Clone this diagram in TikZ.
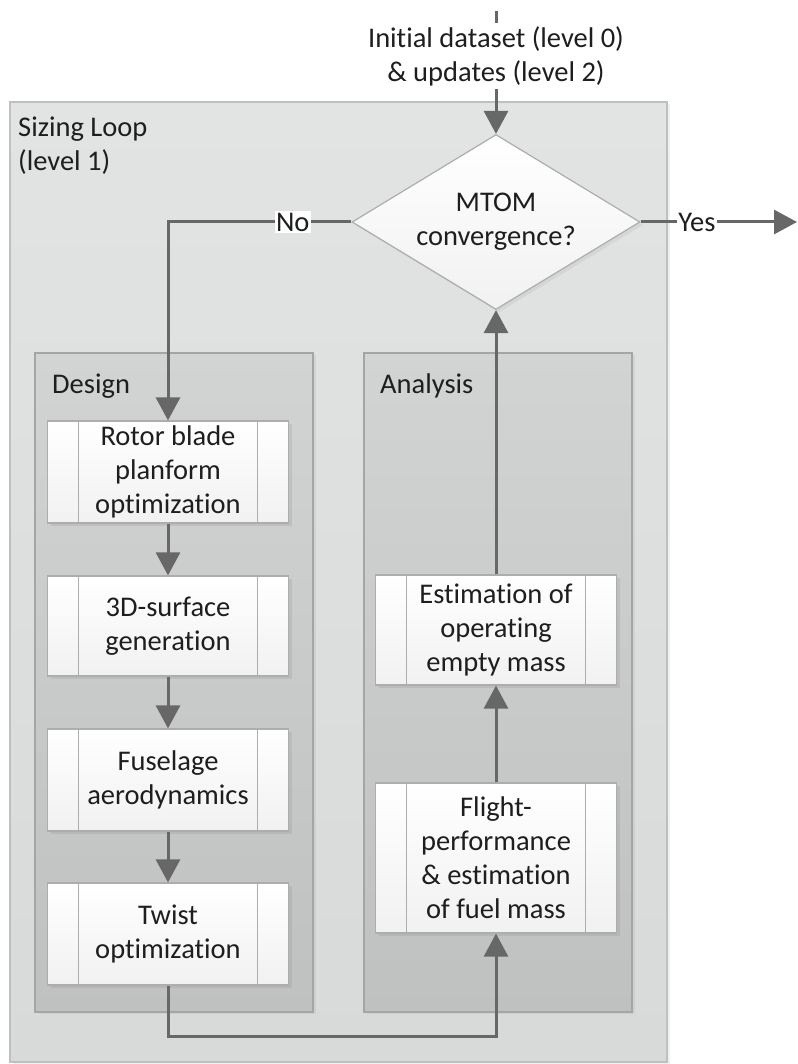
\documentclass[tikz,border=0pt]{standalone}
\usepackage{fontspec}
\setmainfont{Carlito}[Ligatures=NoCommon]
\usetikzlibrary{arrows.meta,shapes.geometric,shadows}

\definecolor{inkgray}{HTML}{1E1E1E}
\definecolor{conngray}{HTML}{676767}
\definecolor{looptop}{HTML}{E2E3E3}
\definecolor{loopbot}{HTML}{D8D9D9}
\definecolor{loopline}{HTML}{BEBFBF}
\definecolor{paneltop}{HTML}{D2D3D3}
\definecolor{panelbot}{HTML}{BFC0C0}
\definecolor{panelline}{HTML}{A4A5A5}
\definecolor{boxline}{HTML}{ADADAD}
\definecolor{boxbot}{HTML}{F1F1F1}

\begin{document}
\begin{tikzpicture}[x=1pt,y=-1pt,
  every node/.style={font=\fontsize{28.5}{34}\selectfont, text=inkgray},
  loopbox/.style={draw=loopline, line width=1.3pt, top color=looptop, bottom color=loopbot,
    inner sep=0, drop shadow={opacity=0.12, shadow xshift=3pt, shadow yshift=-2pt}},
  panel/.style={draw=panelline, line width=1.3pt, top color=paneltop, bottom color=panelbot,
    inner sep=0, drop shadow={opacity=0.12, shadow xshift=3pt, shadow yshift=-2pt}},
  procbox/.style={draw=boxline, line width=1.2pt, top color=white, bottom color=boxbot,
    minimum width=241pt, minimum height=#1, inner sep=0, align=center,
    drop shadow={opacity=0.18, shadow xshift=3pt, shadow yshift=-3pt},
    path picture={
      \draw[boxline, line width=1.2pt]
        ([xshift=31pt]path picture bounding box.north west) -- ([xshift=31pt]path picture bounding box.south west)
        ([xshift=-31pt]path picture bounding box.north east) -- ([xshift=-31pt]path picture bounding box.south east);
    }},
  decision/.style={diamond, aspect=1.6457, minimum width=288pt, minimum height=175pt, inner sep=0,
    draw=boxline, line width=1.2pt, top color=white, bottom color=boxbot, align=center,
    drop shadow={opacity=0.12, shadow xshift=3pt, shadow yshift=-3pt}},
  conn/.style={draw=conngray, line width=3pt},
  arr/.style={conn, -{Triangle[length=23pt, width=24pt]}},
  lbl/.style={fill=white, inner sep=1.5pt},
  title/.style={inner sep=0, align=left}
]
\useasboundingbox (0,0) rectangle (797,1064);

% containers
\node[loopbox, minimum width=657pt, minimum height=960pt] (loop) at (338.5,582) {};
\node[panel, minimum width=278pt, minimum height=659pt] (design) at (174,682.5) {};
\node[panel, minimum width=268pt, minimum height=659pt] (analysis) at (498,682.5) {};

\node[title, anchor=north west] (looptitle) at (18,117) {Sizing Loop\\(level 1)};
\node[title, anchor=base west] (designtitle) at (52,393) {Design};
\node[title, anchor=base west] (analysistitle) at (380,393) {Analysis};

% input and decision
\coordinate (src) at (496,11);
\node[align=center, inner sep=3pt] (init) at (496,56) {Initial dataset (level 0)\\\& updates (level 2)};
\node[decision] (conv) at (496,222) {MTOM\\convergence?};
\coordinate (out) at (797,222);

% design chain
\node[procbox=102pt] (rotor) at (168,472) {Rotor blade\\planform\\optimization};
\node[procbox=100pt] (surf) at (168,626) {3D-surface\\generation};
\node[procbox=102pt] (fus) at (168,780) {Fuselage\\aerodynamics};
\node[procbox=102pt] (twist) at (168,934) {Twist\\optimization};

% analysis chain
\node[procbox=110pt] (est) at (496,630) {Estimation of\\operating\\empty mass};
\node[procbox=150pt] (flight) at (496,858) {Flight-\\performance\\\& estimation\\of fuel mass};

% connectors
\draw[conn] (src) -- (init.north);
\draw[arr] (init.south) -- (conv.north);
\draw[arr] (conv.west) -| node[pos=0.16, lbl] {No} (rotor.north);
\draw[arr] (conv.east) -- node[pos=0.36, lbl] {Yes} (out);
\draw[arr] (rotor) -- (surf);
\draw[arr] (surf) -- (fus);
\draw[arr] (fus) -- (twist);
\draw[arr] (twist.south) -- ++(0,51) -| (flight.south);
\draw[arr] (flight) -- (est);
\draw[arr] (est) -- (conv.south);
\end{tikzpicture}
\end{document}
